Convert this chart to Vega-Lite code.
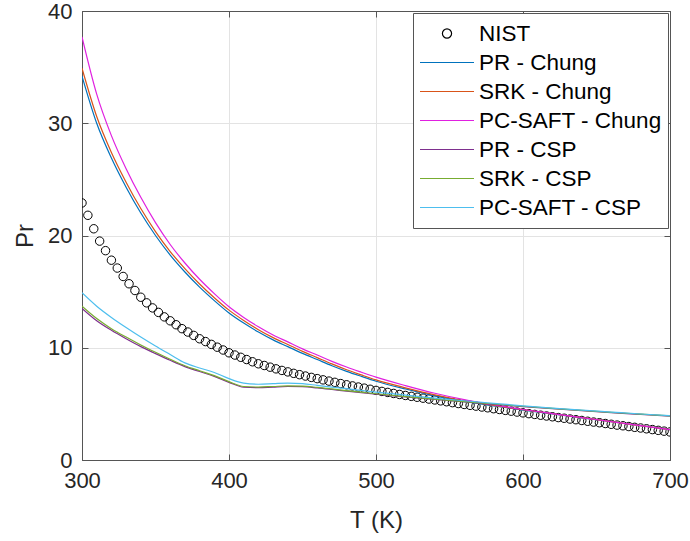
{
  "$schema": "https://vega.github.io/schema/vega-lite/v6.json",
  "width": 588,
  "height": 449,
  "autosize": {"type": "none"},
  "padding": {"left": 82, "top": 11, "right": 20, "bottom": 81},
  "background": "white",
  "config": {
    "view": {"stroke": "#555555", "strokeWidth": 1},
    "font": "Liberation Sans",
    "axis": {
      "labelFont": "Liberation Sans", "titleFont": "Liberation Sans",
      "labelFontSize": 22, "titleFontSize": 24, "titleFontWeight": "normal",
      "labelColor": "#262626", "titleColor": "#262626",
      "domainColor": "#555555", "tickColor": "#555555", "gridColor": "#e3e3e3",
      "tickSize": -6, "labelFlush": false, "labelOverlap": false
    }
  },
  "datasets": {
    "nist": [
      {"T":300,"NIST":22.9},{"T":304,"NIST":21.8},{"T":308,"NIST":20.6},{"T":312,"NIST":19.5},{"T":316,"NIST":18.65},
      {"T":320,"NIST":17.8},{"T":324,"NIST":17.1},{"T":328,"NIST":16.35},{"T":332,"NIST":15.7},{"T":336,"NIST":15.1},
      {"T":340,"NIST":14.5},{"T":344,"NIST":14.0},{"T":348,"NIST":13.55},{"T":352,"NIST":13.15},{"T":356,"NIST":12.75},
      {"T":360,"NIST":12.4},{"T":364,"NIST":12.05},{"T":368,"NIST":11.7},{"T":372,"NIST":11.4},{"T":376,"NIST":11.1},
      {"T":380,"NIST":10.8},{"T":384,"NIST":10.55},{"T":388,"NIST":10.3},{"T":392,"NIST":10.05},{"T":396,"NIST":9.8},
      {"T":400,"NIST":9.55},{"T":404,"NIST":9.35},{"T":408,"NIST":9.15},{"T":412,"NIST":8.95},{"T":416,"NIST":8.75},
      {"T":420,"NIST":8.57},{"T":424,"NIST":8.42},{"T":428,"NIST":8.27},{"T":432,"NIST":8.12},{"T":436,"NIST":7.98},
      {"T":440,"NIST":7.85},{"T":444,"NIST":7.72},{"T":448,"NIST":7.6},{"T":452,"NIST":7.48},{"T":456,"NIST":7.36},
      {"T":460,"NIST":7.25},{"T":464,"NIST":7.14},{"T":468,"NIST":7.03},{"T":472,"NIST":6.92},{"T":476,"NIST":6.81},
      {"T":480,"NIST":6.7},{"T":484,"NIST":6.6},{"T":488,"NIST":6.5},{"T":492,"NIST":6.4},{"T":496,"NIST":6.3},
      {"T":500,"NIST":6.2},{"T":504,"NIST":6.11},{"T":508,"NIST":6.02},{"T":512,"NIST":5.93},{"T":516,"NIST":5.84},
      {"T":520,"NIST":5.75},{"T":524,"NIST":5.67},{"T":528,"NIST":5.59},{"T":532,"NIST":5.51},{"T":536,"NIST":5.43},
      {"T":540,"NIST":5.35},{"T":544,"NIST":5.27},{"T":548,"NIST":5.19},{"T":552,"NIST":5.11},{"T":556,"NIST":5.03},
      {"T":560,"NIST":4.95},{"T":564,"NIST":4.87},{"T":568,"NIST":4.8},{"T":572,"NIST":4.72},{"T":576,"NIST":4.65},
      {"T":580,"NIST":4.57},{"T":584,"NIST":4.5},{"T":588,"NIST":4.42},{"T":592,"NIST":4.35},{"T":596,"NIST":4.27},
      {"T":600,"NIST":4.2},{"T":604,"NIST":4.13},{"T":608,"NIST":4.06},{"T":612,"NIST":3.99},{"T":616,"NIST":3.92},
      {"T":620,"NIST":3.85},{"T":624,"NIST":3.78},{"T":628,"NIST":3.72},{"T":632,"NIST":3.65},{"T":636,"NIST":3.59},
      {"T":640,"NIST":3.52},{"T":644,"NIST":3.45},{"T":648,"NIST":3.38},{"T":652,"NIST":3.32},{"T":656,"NIST":3.25},
      {"T":660,"NIST":3.18},{"T":664,"NIST":3.11},{"T":668,"NIST":3.05},{"T":672,"NIST":2.98},{"T":676,"NIST":2.91},
      {"T":680,"NIST":2.85},{"T":684,"NIST":2.78},{"T":688,"NIST":2.71},{"T":692,"NIST":2.64},{"T":696,"NIST":2.57},
      {"T":700,"NIST":2.5}
    ],
    "models": [
      {"T":300,"PR - Chung":34.2,"SRK - Chung":34.9,"PC-SAFT - Chung":37.7,"PR - CSP":13.5,"SRK - CSP":13.7,"PC-SAFT - CSP":14.9},
      {"T":310,"PR - Chung":30.0,"SRK - Chung":30.6,"PC-SAFT - Chung":32.6,"PR - CSP":12.4,"SRK - CSP":12.6,"PC-SAFT - CSP":13.7},
      {"T":320,"PR - Chung":26.9,"SRK - Chung":27.4,"PC-SAFT - Chung":28.9,"PR - CSP":11.55,"SRK - CSP":11.7,"PC-SAFT - CSP":12.7},
      {"T":330,"PR - Chung":24.3,"SRK - Chung":24.75,"PC-SAFT - Chung":25.95,"PR - CSP":10.8,"SRK - CSP":10.95,"PC-SAFT - CSP":11.8},
      {"T":340,"PR - Chung":22.0,"SRK - Chung":22.4,"PC-SAFT - Chung":23.4,"PR - CSP":10.1,"SRK - CSP":10.25,"PC-SAFT - CSP":10.95},
      {"T":350,"PR - Chung":20.0,"SRK - Chung":20.35,"PC-SAFT - Chung":21.15,"PR - CSP":9.48,"SRK - CSP":9.6,"PC-SAFT - CSP":10.15},
      {"T":360,"PR - Chung":18.25,"SRK - Chung":18.57,"PC-SAFT - Chung":19.2,"PR - CSP":8.88,"SRK - CSP":8.98,"PC-SAFT - CSP":9.4},
      {"T":370,"PR - Chung":16.75,"SRK - Chung":17.05,"PC-SAFT - Chung":17.55,"PR - CSP":8.32,"SRK - CSP":8.4,"PC-SAFT - CSP":8.65},
      {"T":380,"PR - Chung":15.4,"SRK - Chung":15.68,"PC-SAFT - Chung":16.1,"PR - CSP":7.88,"SRK - CSP":7.95,"PC-SAFT - CSP":8.2},
      {"T":390,"PR - Chung":14.2,"SRK - Chung":14.46,"PC-SAFT - Chung":14.82,"PR - CSP":7.45,"SRK - CSP":7.52,"PC-SAFT - CSP":7.8},
      {"T":400,"PR - Chung":13.1,"SRK - Chung":13.35,"PC-SAFT - Chung":13.65,"PR - CSP":6.92,"SRK - CSP":6.98,"PC-SAFT - CSP":7.25},
      {"T":410,"PR - Chung":12.2,"SRK - Chung":12.43,"PC-SAFT - Chung":12.7,"PR - CSP":6.48,"SRK - CSP":6.55,"PC-SAFT - CSP":6.85},
      {"T":420,"PR - Chung":11.4,"SRK - Chung":11.61,"PC-SAFT - Chung":11.87,"PR - CSP":6.44,"SRK - CSP":6.5,"PC-SAFT - CSP":6.75},
      {"T":430,"PR - Chung":10.7,"SRK - Chung":10.9,"PC-SAFT - Chung":11.14,"PR - CSP":6.5,"SRK - CSP":6.55,"PC-SAFT - CSP":6.8},
      {"T":440,"PR - Chung":10.1,"SRK - Chung":10.29,"PC-SAFT - Chung":10.52,"PR - CSP":6.55,"SRK - CSP":6.6,"PC-SAFT - CSP":6.85},
      {"T":450,"PR - Chung":9.5,"SRK - Chung":9.68,"PC-SAFT - Chung":9.9,"PR - CSP":6.53,"SRK - CSP":6.58,"PC-SAFT - CSP":6.8},
      {"T":460,"PR - Chung":8.95,"SRK - Chung":9.12,"PC-SAFT - Chung":9.35,"PR - CSP":6.42,"SRK - CSP":6.47,"PC-SAFT - CSP":6.65},
      {"T":470,"PR - Chung":8.4,"SRK - Chung":8.56,"PC-SAFT - Chung":8.79,"PR - CSP":6.28,"SRK - CSP":6.33,"PC-SAFT - CSP":6.5},
      {"T":480,"PR - Chung":7.9,"SRK - Chung":8.04,"PC-SAFT - Chung":8.28,"PR - CSP":6.13,"SRK - CSP":6.18,"PC-SAFT - CSP":6.35},
      {"T":490,"PR - Chung":7.45,"SRK - Chung":7.58,"PC-SAFT - Chung":7.82,"PR - CSP":5.99,"SRK - CSP":6.04,"PC-SAFT - CSP":6.2},
      {"T":500,"PR - Chung":7.02,"SRK - Chung":7.14,"PC-SAFT - Chung":7.38,"PR - CSP":5.86,"SRK - CSP":5.9,"PC-SAFT - CSP":6.05},
      {"T":520,"PR - Chung":6.33,"SRK - Chung":6.43,"PC-SAFT - Chung":6.63,"PR - CSP":5.62,"SRK - CSP":5.65,"PC-SAFT - CSP":5.78},
      {"T":540,"PR - Chung":5.72,"SRK - Chung":5.8,"PC-SAFT - Chung":5.95,"PR - CSP":5.39,"SRK - CSP":5.42,"PC-SAFT - CSP":5.52},
      {"T":560,"PR - Chung":5.22,"SRK - Chung":5.28,"PC-SAFT - Chung":5.38,"PR - CSP":5.17,"SRK - CSP":5.2,"PC-SAFT - CSP":5.28},
      {"T":580,"PR - Chung":4.82,"SRK - Chung":4.86,"PC-SAFT - Chung":4.92,"PR - CSP":4.96,"SRK - CSP":4.99,"PC-SAFT - CSP":5.05},
      {"T":600,"PR - Chung":4.45,"SRK - Chung":4.48,"PC-SAFT - Chung":4.5,"PR - CSP":4.76,"SRK - CSP":4.79,"PC-SAFT - CSP":4.83},
      {"T":620,"PR - Chung":4.1,"SRK - Chung":4.12,"PC-SAFT - Chung":4.13,"PR - CSP":4.57,"SRK - CSP":4.6,"PC-SAFT - CSP":4.63},
      {"T":640,"PR - Chung":3.76,"SRK - Chung":3.77,"PC-SAFT - Chung":3.78,"PR - CSP":4.39,"SRK - CSP":4.42,"PC-SAFT - CSP":4.44},
      {"T":660,"PR - Chung":3.41,"SRK - Chung":3.42,"PC-SAFT - Chung":3.42,"PR - CSP":4.22,"SRK - CSP":4.25,"PC-SAFT - CSP":4.27},
      {"T":680,"PR - Chung":3.06,"SRK - Chung":3.06,"PC-SAFT - Chung":3.06,"PR - CSP":4.06,"SRK - CSP":4.09,"PC-SAFT - CSP":4.1},
      {"T":700,"PR - Chung":2.7,"SRK - Chung":2.7,"PC-SAFT - Chung":2.7,"PR - CSP":3.9,"SRK - CSP":3.93,"PC-SAFT - CSP":3.94}
    ]
  },
  "resolve": {"axis": {"x": "independent", "y": "independent"}},
  "layer": [
    {
      "data": {"name": "nist"},
      "transform": [{"fold": ["NIST"], "as": ["series", "Pr"]}],
      "mark": {"type": "point", "filled": false, "size": 2473, "strokeWidth": 1, "opacity": 1, "clip": true},
      "encoding": {
        "x": {"field": "T", "type": "quantitative",
              "scale": {"domain": [300, 700], "nice": false, "zero": false},
              "axis": {"orient": "bottom", "values": [300, 400, 500, 600, 700], "title": "T (K)", "grid": true, "labelPadding": 16, "titlePadding": 17}},
        "y": {"field": "Pr", "type": "quantitative",
              "scale": {"domain": [0, 40], "nice": false, "zero": true},
              "axis": {"orient": "left", "values": [0, 10, 20, 30, 40], "title": "Pr", "grid": true, "labelPadding": 16, "titlePadding": 10}},
        "color": {"field": "series", "type": "nominal",
                  "scale": {"domain": ["NIST", "PR - Chung", "SRK - Chung", "PC-SAFT - Chung", "PR - CSP", "SRK - CSP", "PC-SAFT - CSP"],
                            "range": ["#000000", "#0072BD", "#D95319", "#E020E0", "#7E2F8E", "#77AC30", "#4DBEEE"]},
                  "legend": {"title": null, "orient": "top-right", "offset": 2, "symbolSize": 2916, "clipHeight": 29, "padding": 6, "rowPadding": 0,
                             "labelFontSize": 22.5, "labelFont": "Liberation Sans", "labelColor": "#000000", "labelOffset": 4, "labelLimit": 400,
                             "strokeColor": "#555555", "fillColor": "white", "symbolStrokeWidth": 1.2,
                             "encode": {"symbols": {"update": {
                               "shape": {"scale": "shape", "field": "value"},
                               "stroke": {"scale": "color", "field": "value"},
                               "fill": {"value": "transparent"},
                               "strokeWidth": {"value": 1.2},
                               "size": {"value": 2916},
                               "opacity": {"value": 1}
                             }}}}},
        "shape": {"field": "series", "type": "nominal",
                  "scale": {"domain": ["NIST", "PR - Chung", "SRK - Chung", "PC-SAFT - Chung", "PR - CSP", "SRK - CSP", "PC-SAFT - CSP"],
                            "range": ["M0.17,0A0.17,0.17,0,1,1,-0.17,0A0.17,0.17,0,1,1,0.17,0Z", "M-1,0H1", "M-1,0H1", "M-1,0H1", "M-1,0H1", "M-1,0H1", "M-1,0H1"]},
                  "legend": null}
      }
    },
    {
      "data": {"name": "models"},
      "transform": [{"fold": ["PR - Chung", "SRK - Chung", "PC-SAFT - Chung", "PR - CSP", "SRK - CSP", "PC-SAFT - CSP"], "as": ["series", "Pr"]}],
      "mark": {"type": "line", "strokeWidth": 1.2, "interpolate": "monotone", "clip": true},
      "encoding": {
        "x": {"field": "T", "type": "quantitative",
              "axis": {"orient": "top", "values": [300, 400, 500, 600, 700], "title": null, "labels": false, "grid": false}},
        "y": {"field": "Pr", "type": "quantitative",
              "axis": {"orient": "right", "values": [0, 10, 20, 30, 40], "title": null, "labels": false, "grid": false}},
        "color": {"field": "series", "type": "nominal",
                  "scale": {"domain": ["NIST", "PR - Chung", "SRK - Chung", "PC-SAFT - Chung", "PR - CSP", "SRK - CSP", "PC-SAFT - CSP"]}}
      }
    }
  ]
}
